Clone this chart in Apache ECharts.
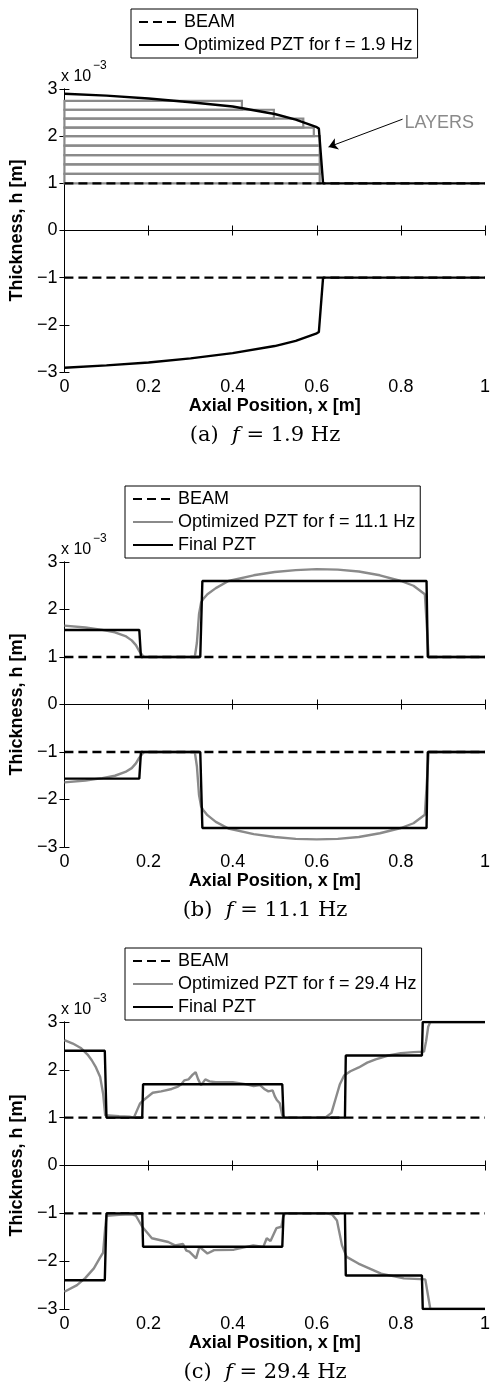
<!DOCTYPE html>
<html>
<head>
<meta charset="utf-8">
<script src="https://cdn.jsdelivr.net/npm/echarts@6/dist/echarts.min.js"></script>
<style>
  html, body { margin: 0; padding: 0; background: #fff; }
  #main { width: 493px; height: 1387px; }
</style>
</head>
<body>
<div id="main"></div>
<script>
// beam faces, same in every panel
const beamX = [0, 1];
const beamUp = [1, 1];
const beamDown = [-1, -1];

// (a) f = 1.9 Hz
const optA_x = [0, 0.1, 0.2, 0.3, 0.4, 0.5, 0.55, 0.6, 0.605, 0.615, 1];
const optA_up = [2.9, 2.86, 2.8, 2.72, 2.63, 2.47, 2.35, 2.19, 2.16, 1.0, 1.0];
const optA_down = [-2.91, -2.86, -2.8, -2.71, -2.6, -2.45, -2.34, -2.18, -2.15, -1.0, -1.0];
// piezo layers (bottom, top, length)
const layerBottom = [1.0, 1.2, 1.4, 1.6, 1.8, 2.0, 2.18, 2.37, 2.56];
const layerTop = [1.2, 1.4, 1.6, 1.8, 2.0, 2.18, 2.37, 2.56, 2.75];
const layerLength = [0.607, 0.607, 0.607, 0.607, 0.607, 0.593, 0.568, 0.498, 0.422];

// (b) f = 11.1 Hz
const finalB_x = [0, 0.178, 0.182, 0.323, 0.328, 0.861, 0.864, 1];
const finalB_up = [1.57, 1.57, 1.0, 1.0, 2.6, 2.6, 1.0, 1.0];
const finalB_down = [-1.56, -1.56, -1.0, -1.0, -2.6, -2.6, -1.0, -1.0];
const optB_x = [0, 0.05, 0.09, 0.12, 0.145, 0.16, 0.17, 0.178, 0.185, 0.19, 0.31, 0.315, 0.32, 0.325, 0.33,
  0.34, 0.36, 0.39, 0.45, 0.5, 0.55, 0.6, 0.65, 0.7, 0.75, 0.8, 0.83, 0.857, 0.862, 0.866, 1];
const optB_up = [1.66, 1.62, 1.57, 1.52, 1.44, 1.35, 1.25, 1.12, 1.04, 1.0, 1.0, 1.3, 1.9, 2.15, 2.22,
  2.32, 2.45, 2.6, 2.72, 2.79, 2.83, 2.85, 2.84, 2.8, 2.72, 2.6, 2.5, 2.32, 1.6, 1.0, 1.0];
const optB_down = [-1.64, -1.6, -1.55, -1.5, -1.42, -1.34, -1.24, -1.12, -1.04, -1.0, -1.0, -1.3, -1.9, -2.15, -2.22,
  -2.33, -2.47, -2.61, -2.73, -2.79, -2.83, -2.84, -2.83, -2.79, -2.71, -2.6, -2.5, -2.32, -1.6, -1.0, -1.0];

// (c) f = 29.4 Hz
const finalC_x = [0, 0.096, 0.1, 0.185, 0.187, 0.518, 0.521, 0.667, 0.669, 0.85, 0.852, 1];
const finalC_up = [2.4, 2.4, 1.0, 1.0, 1.7, 1.7, 1.0, 1.0, 2.3, 2.3, 3.0, 3.0];
const finalC_down = [-2.4, -2.4, -1.0, -1.0, -1.7, -1.7, -1.0, -1.0, -2.3, -2.3, -3.0, -3.0];
const optC_upX = [0, 0.02, 0.04, 0.055, 0.065, 0.075, 0.085, 0.092, 0.097, 0.1, 0.13, 0.155, 0.165, 0.17, 0.18,
  0.19, 0.21, 0.23, 0.255, 0.27, 0.278, 0.285, 0.295, 0.305, 0.312, 0.318, 0.325, 0.335, 0.345, 0.36,
  0.4, 0.43, 0.45, 0.465, 0.475, 0.485, 0.495, 0.5, 0.505, 0.512, 0.518, 0.525, 0.62, 0.635, 0.645,
  0.655, 0.665, 0.68, 0.7, 0.72, 0.74, 0.77, 0.8, 0.83, 0.855, 0.86, 0.865, 0.87, 1];
const optC_up = [2.62, 2.55, 2.45, 2.32, 2.2, 2.05, 1.85, 1.5, 1.05, 1.03, 1.03, 1.02, 1.0, 1.1, 1.3,
  1.38, 1.52, 1.55, 1.6, 1.65, 1.7, 1.78, 1.8, 1.9, 1.95, 1.8, 1.68, 1.8, 1.76, 1.74,
  1.74, 1.7, 1.66, 1.68, 1.6, 1.55, 1.57, 1.45, 1.37, 1.3, 1.05, 1.0, 1.0, 1.1, 1.4,
  1.7, 1.88, 1.97, 2.05, 2.15, 2.22, 2.3, 2.35, 2.37, 2.38, 2.6, 2.9, 3.0, 3.0];
const optC_downX = [0, 0.03, 0.05, 0.07, 0.085, 0.092, 0.097, 0.1, 0.13, 0.16, 0.17, 0.185, 0.208, 0.247, 0.263,
  0.282, 0.29, 0.297, 0.313, 0.321, 0.34, 0.356, 0.403, 0.449, 0.473, 0.481, 0.49, 0.504, 0.516, 0.52,
  0.525, 0.62, 0.636, 0.648, 0.66, 0.671, 0.699, 0.753, 0.807, 0.858, 0.87, 1];
const optC_down = [-2.64, -2.5, -2.35, -2.15, -1.92, -1.82, -1.3, -1.05, -1.03, -1.02, -1.05, -1.28, -1.52, -1.6, -1.67,
  -1.64, -1.78, -1.8, -1.94, -1.7, -1.84, -1.77, -1.76, -1.67, -1.7, -1.52, -1.58, -1.31, -1.28, -1.07,
  -1.0, -1.0, -1.02, -1.15, -1.67, -1.91, -2.05, -2.26, -2.36, -2.38, -3.0, -3.0];

const optNames = ['Optimized PZT for f = 1.9 Hz', 'Optimized PZT for f = 11.1 Hz', 'Optimized PZT for f = 29.4 Hz'];
const captions = ['(a)', '(b)', '(c)'];
const captionFreq = ['1.9', '11.1', '29.4'];

// layout
const panelTop = [89, 562, 1022];
const panelHeight = [283, 285, 287];
const gridLeft = 61, gridRight = 4;
const legendTop = [9, 486, 948];
const legendLeft = [131, 125, 125];

const SANS = '"Liberation Sans", Arial, Helvetica, sans-serif';
const GRAY = '#8a8a8a';
const blackLine = { color: '#000', width: 2.4, type: 'solid' };
const grayLine = { color: GRAY, width: 2.4, type: 'solid' };
const dashLine = { color: '#000', width: 2.4, type: [9, 5] };

const zip = (xs, ys) => xs.map((x, i) => [x, ys[i]]);

function line(name, p, xs, ys, style) {
  return {
    type: 'line', name: name, xAxisIndex: p * 2, yAxisIndex: p * 2,
    data: zip(xs, ys), symbol: 'none', showSymbol: false,
    lineStyle: style, itemStyle: { color: style.color },
    animation: false, silent: true
  };
}

const chart = echarts.init(document.getElementById('main'), null, { renderer: 'canvas' });

const grids = [], xAxes = [], yAxes = [], legends = [], graphics = [];
for (let p = 0; p < 3; p++) {
  grids.push({ left: gridLeft, right: gridRight, top: panelTop[p], height: panelHeight[p], containLabel: false });
  const axLine = { show: true, lineStyle: { color: '#000', width: 1 } };
  const tick = { show: true, inside: true, length: 5, lineStyle: { color: '#000', width: 1 } };
  xAxes.push({
    type: 'value', gridIndex: p, min: 0, max: 1, interval: 0.2, position: 'bottom',
    axisLine: axLine, axisTick: tick, splitLine: { show: false },
    axisLabel: { color: '#000', fontSize: 18, fontFamily: SANS, margin: 6,
      formatter: v => String(Math.round(v * 10) / 10) },
    name: 'Axial Position, x [m]', nameLocation: 'middle', nameGap: 25,
    nameTextStyle: { color: '#000', fontSize: 18, fontWeight: 'bold', fontFamily: SANS }
  });
  xAxes.push({
    type: 'value', gridIndex: p, min: 0, max: 1, interval: 0.2, position: 'top',
    axisLine: axLine, axisTick: tick, splitLine: { show: false }, axisLabel: { show: false }
  });
  yAxes.push({
    type: 'value', gridIndex: p, min: -3, max: 3, interval: 1, position: 'left',
    axisLine: axLine, axisTick: tick, splitLine: { show: false },
    axisLabel: { color: '#000', fontSize: 18, fontFamily: SANS, margin: 7,
      formatter: v => v < 0 ? '\u2212' + Math.abs(v) : String(v) },
    name: 'Thickness, h [m]', nameLocation: 'middle', nameGap: 33,
    nameTextStyle: { color: '#000', fontSize: 18, fontWeight: 'bold', fontFamily: SANS }
  });
  yAxes.push({
    type: 'value', gridIndex: p, min: -3, max: 3, interval: 1, position: 'right',
    axisLine: axLine, axisTick: tick, splitLine: { show: false }, axisLabel: { show: false }
  });

  const legendData = p === 0 ? ['BEAM', optNames[0]] : ['BEAM', optNames[p], 'Final PZT'];
  legends.push({
    data: legendData, orient: 'vertical', left: legendLeft[p], top: legendTop[p],
    selectedMode: false, itemWidth: 40, itemHeight: 14, itemGap: 5,
    padding: [4, 5, 4, 7], borderColor: '#000', borderWidth: 1, backgroundColor: '#fff',
    itemStyle: { opacity: 0, borderWidth: 0 },
    textStyle: { color: '#000', fontSize: 18, fontFamily: SANS }
  });

  // x 10^-3 multiplier
  graphics.push({
    type: 'text', x: gridLeft, y: panelTop[p] - 20,
    style: { text: 'x 10', font: '16px ' + SANS, fill: '#000' }
  });
  graphics.push({
    type: 'text', x: gridLeft + 32, y: panelTop[p] - 29,
    style: { text: '\u22123', font: '12px ' + SANS, fill: '#000' }
  });
  // caption
  graphics.push({
    type: 'text', x: 265, y: panelTop[p] + panelHeight[p] + 64,
    style: {
      text: captions[p] + '  {i|f} = ' + captionFreq[p] + ' Hz',
      font: '21px "DejaVu Serif", "Liberation Serif", serif', fill: '#000',
      align: 'center', verticalAlign: 'middle',
      rich: { i: { fontStyle: 'italic', fontSize: 21, fontFamily: '"DejaVu Serif", serif' } }
    }
  });
}

const series = [
  // (a)
  line('BEAM', 0, beamX, beamUp, dashLine),
  line('BEAM', 0, beamX, beamDown, dashLine),
  {
    type: 'custom', name: 'layers', xAxisIndex: 0, yAxisIndex: 0, animation: false, silent: true,
    data: layerLength.map((l, i) => [l, layerBottom[i], layerTop[i]]),
    renderItem: function (params, api) {
      const a = api.coord([0, api.value(1)]);
      const b = api.coord([api.value(0), api.value(2)]);
      return {
        type: 'rect',
        shape: { x: a[0], y: b[1], width: b[0] - a[0], height: a[1] - b[1] },
        style: { fill: 'none', stroke: GRAY, lineWidth: 2.2 }
      };
    }
  },
  Object.assign(line(optNames[0], 0, optA_x, optA_up, blackLine), {
    markLine: {
      silent: true, animation: false, symbol: ['none', 'arrow'], symbolSize: 9,
      lineStyle: { color: '#000', width: 1, type: 'solid' }, label: { show: false },
      data: [[{ coord: [0.804, 2.36] }, { coord: [0.628, 1.77] }]]
    },
    markPoint: {
      silent: true, animation: false, symbol: 'circle', symbolSize: 0,
      label: { show: true, position: 'right', distance: 1, formatter: 'LAYERS',
        color: GRAY, fontSize: 18, fontFamily: SANS },
      data: [{ coord: [0.806, 2.27] }]
    }
  }),
  line(optNames[0], 0, optA_x, optA_down, blackLine),
  // (b)
  line('BEAM', 1, beamX, beamUp, dashLine),
  line('BEAM', 1, beamX, beamDown, dashLine),
  line(optNames[1], 1, optB_x, optB_up, grayLine),
  line(optNames[1], 1, optB_x, optB_down, grayLine),
  line('Final PZT', 1, finalB_x, finalB_up, blackLine),
  line('Final PZT', 1, finalB_x, finalB_down, blackLine),
  // (c)
  line('BEAM', 2, beamX, beamUp, dashLine),
  line('BEAM', 2, beamX, beamDown, dashLine),
  line(optNames[2], 2, optC_upX, optC_up, grayLine),
  line(optNames[2], 2, optC_downX, optC_down, grayLine),
  line('Final PZT', 2, finalC_x, finalC_up, blackLine),
  line('Final PZT', 2, finalC_x, finalC_down, blackLine)
];

chart.setOption({
  backgroundColor: '#fff',
  animation: false,
  grid: grids,
  xAxis: xAxes,
  yAxis: yAxes,
  legend: legends,
  graphic: graphics,
  series: series
});
</script>
</body>
</html>
